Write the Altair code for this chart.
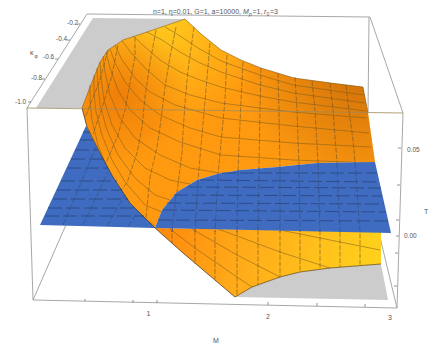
import altair as alt
import pandas as pd

# Picture-space reading of the 3D plot: every surface is a list of (horizontal, vertical) readings.
UPPER_SHEET = [(82,108),(90,87),(100,62),(108,50),(123,40),(147,32),(185,19),(200,33),(221,50),(241,60),(261,68),(294,78),(331,83),(363,87),(368,113),(375,162),(317,163),(277,167),(240,170),(217,174),(197,180),(177,192),(162,210),(155,228),(130,203),(113,177),(100,153),(87,127)]
LOWER_SHEET = [(155,228),(381,232),(381,264),(330,268),(300,272),(280,277),(252,287),(235,297),(183,253)]
BLUE_LEFT = [(86,126),(40,225),(155,228),(130,203),(113,177),(100,153)]
BLUE_RIGHT = [(155,228),(162,210),(177,192),(197,180),(217,174),(240,170),(277,167),(317,163),(375,162),(391,233)]
GREY_TOP = [(93,18),(185,19),(147,32),(123,40),(108,50),(100,62),(90,87),(82,108),(36,108)]
GREY_FLOOR = [(235,297),(252,287),(280,277),(300,272),(330,268),(381,264),(388,300)]

SHEET_ROWS = [
 [(165,27),(177,34),(198,48),(221,61),(260,75),(293,85),(364,95)],
 [(147,32),(162,40),(180,52),(198,62),(221,72),(260,85),(293,93),(365,103)],
 [(133,36),(145,47),(160,60),(180,72),(200,80),(221,87),(260,96),(293,102),(366,111)],
 [(122,41),(133,55),(147,70),(165,85),(190,95),(221,103),(260,108),(293,112),(367,118)],
 [(115,45),(122,60),(135,78),(150,92),(175,105),(221,118),(293,126),(369,133)],
 [(110,49),(115,63),(125,82),(140,100),(160,115),(190,128),(221,137),(293,143),(371,147)],
 [(106,52),(110,68),(118,90),(130,110),(150,128),(180,142),(221,155),(293,160),(374,163)],
 [(103,56),(105,72),(110,95),(120,118),(135,138),(160,155),(190,168),(225,174),(280,230),(380,250)],
 [(100,62),(101,78),(104,100),(112,125),(125,148),(145,168),(170,180),(190,184),(218,229),(280,252),(330,268)],
 [(97,68),(98,85),(100,105),(107,130),(118,155),(135,178),(155,195),(170,200),(192,229),(237,255),(280,277)],
 [(94,75),(94,92),(96,112),(102,135),(112,160),(125,182),(145,205),(162,212),(170,229),(195,248),(237,277),(252,287)],
 [(90,85),(90,100),(92,120),(98,145),(108,170),(122,195),(140,215),(155,226)],
]
SHEET_COLS = [
 [(346,85),(348,103),(353,140),(355,162),(360,232),(360,266)],
 [(330,83),(333,110),(337,163),(340,232),(340,267)],
 [(312,81),(315,110),(318,163),(320,232),(320,269)],
 [(295,77),(297,110),(299,165),(300,232),(300,272)],
 [(278,73),(279,110),(280,167),(280,232),(280,277)],
 [(261,68),(260,110),(259,168),(258,232),(258,285)],
 [(243,62),(241,100),(238,170),(237,232),(237,296)],
 [(227,55),(225,100),(218,175),(215,232),(215,279)],
 [(210,43),(206,90),(198,180),(195,232),(195,264)],
 [(194,27),(188,70),(185,103),(183,133),(182,153),(177,192),(172,232),(172,243)],
 [(176,27),(170,57),(165,87),(160,127),(157,147),(150,177),(146,218)],
 [(156,30),(150,63),(145,97),(142,127),(137,153),(127,183),(121,190)],
 [(135,37),(135,57),(130,83),(125,110),(118,135),(106,163)],
 [(118,45),(112,75),(103,105),(93,134)],
 [(108,50),(100,80),(90,105),(85,118)],
]
BLUE_ROWS = [
 [(83,132),(90,132)],[(80,140),(93,140)],[(75,150),(98,150)],[(71,159),(103,159)],[(67,168),(108,168)],
 [(61,181),(117,181)],[(57,190),(122,190)],[(53,199),(128,199)],[(48,208),(136,208)],[(45,216),(144,216)],
 [(222,173),(377,173)],[(200,180),(379,182)],[(188,187),(381,188)],[(174,195),(382,196)],
 [(167,203),(384,204)],[(163,210),(386,212)],[(158,220),(388,221)],
]
BLUE_COLS = [
 [(63,225),(83,178),(96,147)],[(83,225),(108,172)],[(107,226),(125,195)],[(128,226),(138,212)],
 [(176,195),(172,232)],[(198,180),(195,232)],[(218,175),(215,232)],[(238,170),(237,232)],[(259,168),(258,232)],
 [(280,167),(280,232)],[(299,165),(300,232)],[(318,164),(320,232)],[(337,163),(340,232)],[(355,162),(360,232)],
]
BOX_BEHIND = [
 [(87,14),(370,17)],[(87,14),(27,108)],[(370,17),(403,113)],[(369,17),(368,113)],
 [(403,113),(397,308)],[(27,108),(33,300)],[(33,300),(397,308)],[(33,300),(90,170)],[(397,308),(379,233)],
]
BOX_FRONT = [[(27,108),(403,113)]]
TICKS = [
 [(85,301),(85,299)],[(133,303),(133,300)],[(157,303),(157,300)],[(268,305),(268,302)],[(317,306),(317,303)],[(365,307),(365,304)],
 [(401,148),(398,148)],[(400,185),(397,185)],[(399,220),(396,220)],[(399,236),(396,236)],[(398,253),(395,253)],[(397,286),(394,286)],
 [(80,24),(77,24)],[(70,40),(67,40)],[(58,59),(55,59)],[(45,79),(42,79)],[(31,102),(28,102)],
]
TEXTS = [
 ("n=1, η=0.01, G=1, a=10000,",153,12,7,"normal"),("M",243,12,7,"italic"),("p",249,14,5,"italic"),("=1,",252.5,12,7,"normal"),
 ("r",264,12,7,"italic"),("0",266.5,14,5,"normal"),("=3",270,12,7,"normal"),
 ("-0.2",67,23,6.5,"normal"),("-0.4",56,39,6.5,"normal"),("-0.6",43,57,6.5,"normal"),("-0.8",31,78,6.5,"normal"),("-1.0",15,102,6.5,"normal"),
 ("κ",30,53,7,"normal"),("φ",34.5,56,5,"normal"),
 ("0.05",407,150,6.5,"normal"),("0.00",404,236,6.5,"normal"),("T",424,212,7,"normal"),
 ("1",146.5,314,7,"normal"),("2",266,317,7,"normal"),("3",388,318,7,"normal"),("M",213,341,7,"normal"),
]

XS = alt.Scale(domain=[8, 435], nice=False, zero=False)
YS = alt.Scale(domain=[345, 8], nice=False, zero=False)
X = alt.X("x:Q", scale=XS, axis=None)
Y = alt.Y("y:Q", scale=YS, axis=None)


def table(paths):
    return pd.DataFrame([{"id": k, "i": i, "x": p[0], "y": p[1]} for k, path in enumerate(paths) for i, p in enumerate(path)])


def shape(points, fill):
    return alt.Chart(table([points + [points[0]]])).mark_line(fill=fill, stroke="transparent", strokeWidth=0).encode(x=X, y=Y, order="i:Q")


def lines(paths, color, width, dash=None, opacity=1.0):
    opts = {"color": color, "strokeWidth": width, "opacity": opacity}
    if dash:
        opts["strokeDash"] = dash
    return alt.Chart(table(paths)).mark_line(**opts).encode(x=X, y=Y, detail="id:N", order="i:Q")


def radial(x, y, r, color):
    return alt.RadialGradient(gradient="radial", x1=x, y1=y, x2=x, y2=y, r1=0, r2=r,
                              stops=[alt.GradientStop(color=f"rgba({color},0.95)", offset=0),
                                     alt.GradientStop(color=f"rgba({color},0)", offset=1)])


lower_fill = alt.LinearGradient(gradient="linear", x1=0, y1=0.4, x2=1, y2=0.5,
                                stops=[alt.GradientStop(color="#FF8A0C", offset=0),
                                       alt.GradientStop(color="#FFA818", offset=0.35),
                                       alt.GradientStop(color="#FFC01C", offset=0.7),
                                       alt.GradientStop(color="#FFD21C", offset=1)])

text_df = pd.DataFrame(TEXTS, columns=["t", "x", "y", "s", "st"])
text_layers = [
    alt.Chart(g).mark_text(align="left", baseline="middle", font="Liberation Sans", color="#555555", fontStyle=st, fontSize=float(s)).encode(x=X, y=Y, text="t:N")
    for (s, st), g in text_df.groupby(["s", "st"])
]

chart = alt.layer(
    lines(BOX_BEHIND, "#A8A8A8", 1),
    shape(GREY_TOP, "#CCCCCC"),
    shape(GREY_FLOOR, "#CCCCCC"),
    lines(TICKS, "#777777", 0.8),
    shape(UPPER_SHEET, "#FF9A10"),
    shape(UPPER_SHEET, radial(0.28, 0.14, 0.36, "255,205,30")),
    shape(UPPER_SHEET, radial(0.95, 0.32, 0.42, "205,110,8")),
    shape(UPPER_SHEET, radial(0.13, 0.40, 0.24, "238,125,8")),
    shape(LOWER_SHEET, lower_fill),
    lines(SHEET_ROWS, "#7A5A1A", 0.7, opacity=0.75),
    lines(SHEET_COLS, "#6A5020", 0.75, dash=[5, 1.5], opacity=0.75),
    shape(BLUE_LEFT, "#3F6CC0"),
    shape(BLUE_RIGHT, "#3F6CC0"),
    lines(BLUE_ROWS, "#2A4478", 0.8, dash=[14, 4]),
    lines(BLUE_COLS, "#33507F", 0.7, dash=[6, 2]),
    lines([UPPER_SHEET[:15]], "#6A4A10", 0.6, opacity=0.8),
    lines([UPPER_SHEET[23:] + UPPER_SHEET[:1], LOWER_SHEET[:1] + LOWER_SHEET[-1:] + LOWER_SHEET[-2:-1]], "#3A2A10", 0.7),
    lines([LOWER_SHEET[2:8]], "#5A4010", 0.7),
    lines(BOX_FRONT, "#A08A5A", 1, opacity=0.8),
    *text_layers,
).properties(width=427, height=337, padding=0, background="white",
             autosize=alt.AutoSizeParams(type="none")).configure_view(stroke=None)

chart.save("out.html", embed_options={"renderer": "svg", "actions": False})
